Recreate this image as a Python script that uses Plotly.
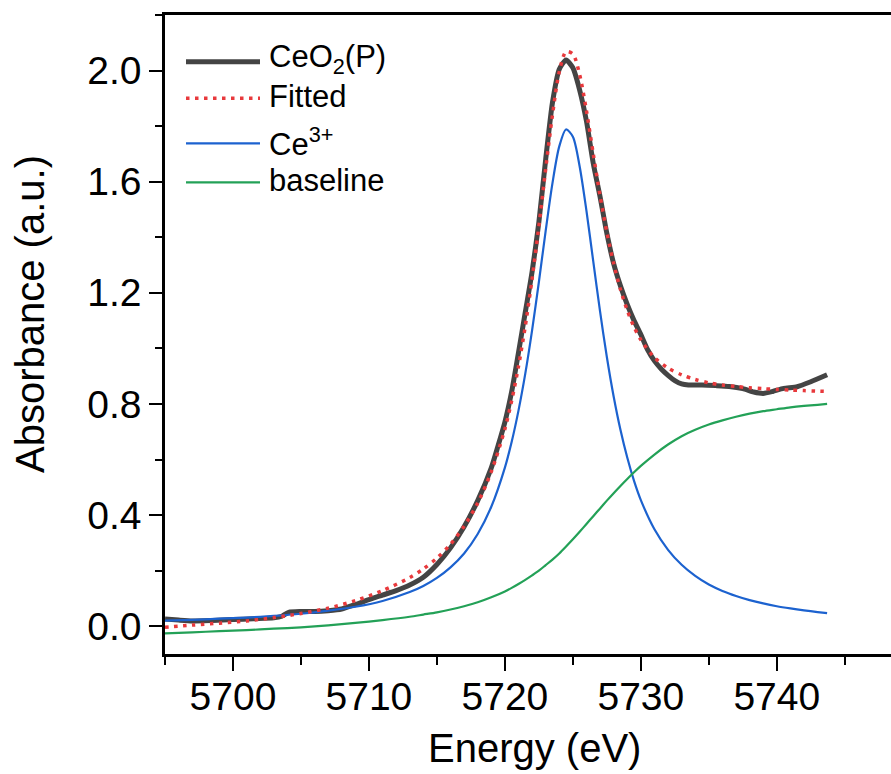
import plotly.graph_objects as go

# Measured Ce L3-edge XANES spectrum of CeO2(P)
energy_meas = [5695.0, 5696.0, 5697.0, 5698.5, 5700.0, 5701.5, 5703.0, 5703.6, 5704.1, 5705.0,
               5706.0, 5707.0, 5708.0, 5709.0, 5710.0, 5711.0, 5712.0, 5713.0, 5714.0, 5715.0,
               5716.0, 5717.0, 5718.0, 5719.0, 5719.5, 5720.0, 5720.5, 5721.0, 5721.5, 5722.0,
               5722.5, 5723.0, 5723.5, 5724.0, 5724.5, 5725.0, 5725.5, 5726.0, 5726.5, 5727.0,
               5727.5, 5728.0, 5728.5, 5729.0, 5729.5, 5730.0, 5730.5, 5731.0, 5731.5, 5732.0,
               5732.5, 5733.0, 5733.5, 5734.5, 5735.5, 5736.5, 5737.5, 5738.3, 5739.0, 5739.7,
               5740.5, 5741.5, 5742.5, 5743.7]
absorb_meas = [0.026, 0.022, 0.019, 0.021, 0.024, 0.027, 0.030, 0.036, 0.050, 0.053,
               0.053, 0.056, 0.062, 0.078, 0.096, 0.112, 0.128, 0.148, 0.176, 0.222,
               0.282, 0.358, 0.452, 0.570, 0.650, 0.735, 0.845, 0.985, 1.130, 1.275,
               1.455, 1.680, 1.885, 2.005, 2.038, 2.010, 1.930, 1.818, 1.666, 1.546,
               1.414, 1.305, 1.225, 1.158, 1.100, 1.050, 0.995, 0.955, 0.926, 0.903,
               0.884, 0.872, 0.868, 0.868, 0.866, 0.863, 0.855, 0.843, 0.838, 0.845,
               0.856, 0.862, 0.880, 0.905]

# Energy grid of the fit components
energy_fit = [5695, 5697, 5699, 5701, 5703, 5705, 5707, 5709, 5711, 5713,
              5714, 5715, 5716, 5717, 5718, 5719, 5720, 5720.5, 5721, 5721.5,
              5722, 5722.5, 5723, 5723.5, 5724, 5724.5, 5725, 5725.5, 5726, 5726.5,
              5727, 5727.5, 5728, 5728.5, 5729, 5729.5, 5730, 5731, 5732, 5733,
              5734, 5735, 5736, 5737, 5738, 5739, 5740, 5741, 5742, 5743, 5743.7]
fitted = [-0.004, 0.004, 0.011, 0.019, 0.031, 0.046, 0.065, 0.092, 0.128, 0.175,
          0.206, 0.245, 0.295, 0.360, 0.443, 0.556, 0.710, 0.812, 0.935, 1.080,
          1.250, 1.440, 1.645, 1.840, 1.995, 2.068, 2.060, 1.985, 1.855, 1.700,
          1.550, 1.418, 1.306, 1.212, 1.137, 1.077, 1.031, 0.967, 0.929, 0.905,
          0.888, 0.876, 0.868, 0.863, 0.858, 0.855, 0.852, 0.850, 0.848, 0.846, 0.845]
ce3 = [0.020, 0.023, 0.027, 0.031, 0.037, 0.045, 0.056, 0.070, 0.091, 0.123,
       0.145, 0.174, 0.212, 0.262, 0.332, 0.430, 0.571, 0.664, 0.776, 0.909,
       1.065, 1.239, 1.423, 1.595, 1.727, 1.788, 1.762, 1.655, 1.495, 1.313,
       1.133, 0.969, 0.827, 0.707, 0.607, 0.523, 0.454, 0.349, 0.275, 0.221,
       0.181, 0.150, 0.127, 0.109, 0.094, 0.082, 0.072, 0.064, 0.057, 0.051, 0.047]
baseline = [-0.026, -0.022, -0.018, -0.014, -0.009, -0.004, 0.003, 0.012, 0.022, 0.034,
            0.042, 0.050, 0.060, 0.072, 0.086, 0.104, 0.125, 0.138, 0.152, 0.167,
            0.183, 0.200, 0.220, 0.240, 0.262, 0.287, 0.313, 0.340, 0.368, 0.396,
            0.424, 0.452, 0.479, 0.505, 0.530, 0.554, 0.577, 0.618, 0.654, 0.684,
            0.707, 0.726, 0.741, 0.754, 0.765, 0.774, 0.781, 0.788, 0.793, 0.797, 0.800]

x_ticks = [5700, 5710, 5720, 5730, 5740]
y_ticks = [0.0, 0.4, 0.8, 1.2, 1.6, 2.0]

C_MEAS = "#444444"
C_FIT = "#E8393C"
C_CE3 = "#1C62CF"
C_BASE = "#23A157"
FIT_DASH = "3.5px,5.5px"
FONT = "Liberation Sans, Arial, sans-serif"

fig = go.Figure()
fig.add_trace(go.Scatter(x=energy_meas, y=absorb_meas, mode="lines",
                         line=dict(color=C_MEAS, width=5, shape="spline", smoothing=0.6),
                         showlegend=False))
fig.add_trace(go.Scatter(x=energy_fit, y=ce3, mode="lines",
                         line=dict(color=C_CE3, width=2.2, shape="spline", smoothing=0.8),
                         showlegend=False))
fig.add_trace(go.Scatter(x=energy_fit, y=baseline, mode="lines",
                         line=dict(color=C_BASE, width=2.2, shape="spline", smoothing=0.8),
                         showlegend=False))
fig.add_trace(go.Scatter(x=energy_fit, y=fitted, mode="lines",
                         line=dict(color=C_FIT, width=3.5, dash=FIT_DASH, shape="spline", smoothing=0.8),
                         showlegend=False))

L, R, T, B = 165, 0, 15, 120
W, H = 891, 774
pw, ph = W - L - R, H - T - B


def px_x(p):
    return (p - L) / pw


def px_y(p):
    return (H - B - p) / ph


# Legend drawn as line samples with labels
legend_rows = [
    ("CeO<sub>2</sub>(P)", C_MEAS, 5, None, 61.7, 59),
    ("Fitted", C_FIT, 3.5, "dot", 98.3, 97),
    ("Ce<sup>3+</sup>", C_CE3, 2.2, None, 143.3, 142),
    ("baseline", C_BASE, 2.2, None, 182.3, 181),
]
shapes = []
annotations = []
for label, col, w, dash, ly, ty in legend_rows:
    shapes.append(dict(type="line", xref="paper", yref="paper",
                       x0=px_x(186), x1=px_x(260), y0=px_y(ly), y1=px_y(ly),
                       line=dict(color=col, width=w, dash=FIT_DASH if dash else "solid")))
    annotations.append(dict(text=label, xref="paper", yref="paper",
                            x=px_x(267), y=px_y(ty), xanchor="left", yanchor="middle",
                            showarrow=False, font=dict(family=FONT, size=31, color="black")))

annotations.append(dict(text="Energy (eV)", xref="paper", yref="paper",
                        x=px_x(534.5), y=px_y(748), xanchor="center", yanchor="middle",
                        showarrow=False, font=dict(family=FONT, size=40, color="black")))
annotations.append(dict(text="Absorbance (a.u.)", xref="paper", yref="paper",
                        x=px_x(30), y=px_y(314), xanchor="center", yanchor="middle",
                        textangle=-90, showarrow=False,
                        font=dict(family=FONT, size=40, color="black")))

fig.update_layout(
    width=W, height=H,
    margin=dict(l=L, r=R, t=T, b=B, pad=0),
    paper_bgcolor="white", plot_bgcolor="white",
    font=dict(family=FONT, color="black"),
    shapes=shapes, annotations=annotations,
)
fig.update_xaxes(
    range=[5695, 5748.4], tickvals=x_ticks, ticktext=[str(v) for v in x_ticks],
    showgrid=False, zeroline=False, showline=True, linecolor="black", linewidth=2.5,
    mirror=True, ticks="outside", ticklen=14, tickwidth=2.2, tickcolor="black",
    ticklabelstandoff=-8,
    tickfont=dict(family=FONT, size=39, color="black"),
    minor=dict(dtick=5, tick0=5695, ticks="outside", ticklen=8, tickwidth=2.2, tickcolor="black"),
)
fig.update_yaxes(
    range=[-0.1, 2.2], tickvals=y_ticks, ticktext=[f"{v:.1f}" for v in y_ticks],
    showgrid=False, zeroline=False, showline=True, linecolor="black", linewidth=2.5,
    mirror=False, ticks="outside", ticklen=13, tickwidth=2.2, tickcolor="black",
    tickfont=dict(family=FONT, size=39, color="black"),
    minor=dict(dtick=0.2, tick0=0, ticks="outside", ticklen=7, tickwidth=2.2, tickcolor="black"),
)

fig.write_html("out.html")
